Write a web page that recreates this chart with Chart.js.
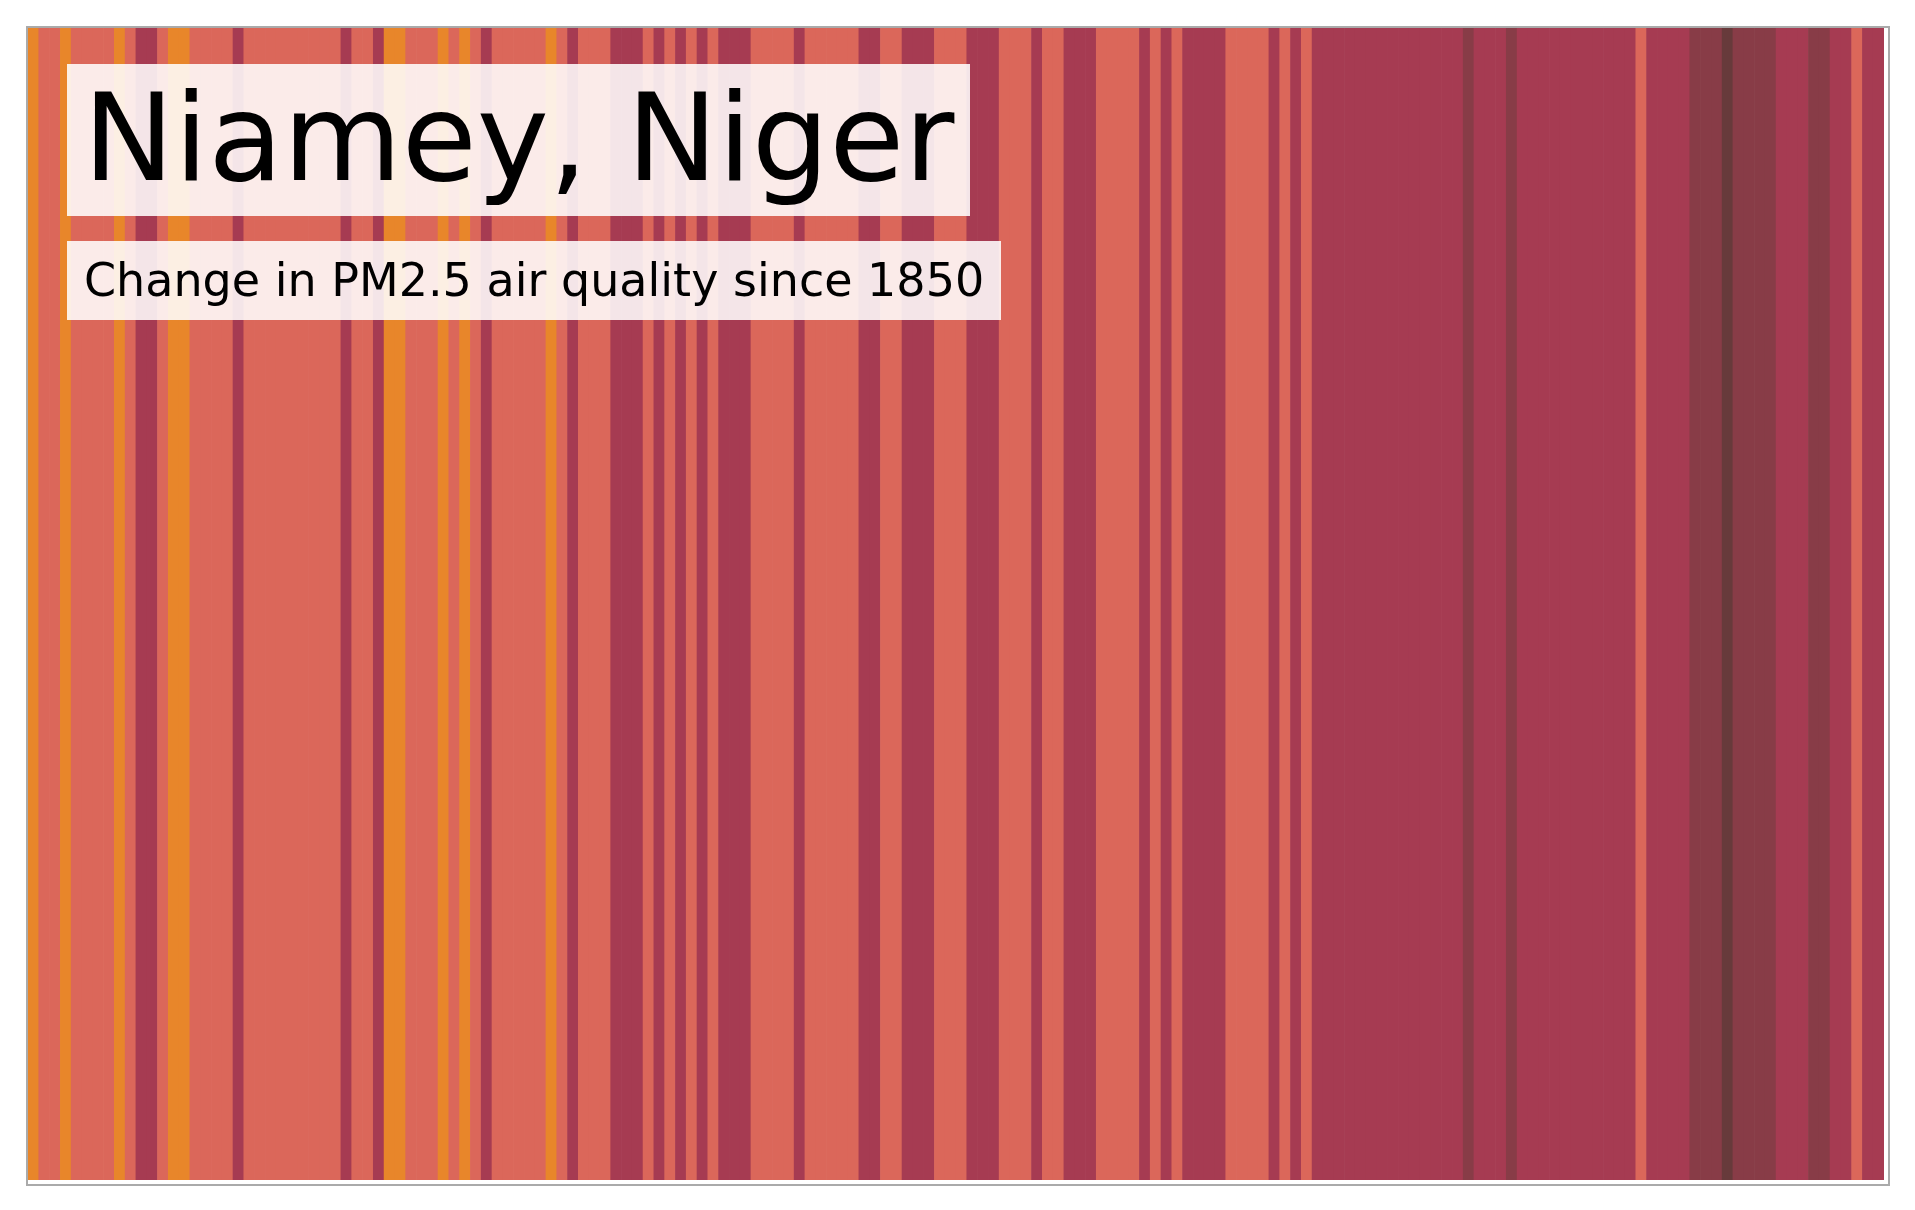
<!DOCTYPE html>
<html><head><meta charset="utf-8">
<script src="https://cdn.jsdelivr.net/npm/chart.js@4/dist/chart.umd.min.js"></script>
<style>
html,body{margin:0;padding:0;background:#fff;width:1915px;height:1210px;overflow:hidden;font-family:"DejaVu Sans",sans-serif;}
#wrap{position:absolute;left:26px;top:26px;width:1860px;height:1156px;border:2px solid #aaa;}
.box{position:absolute;background:rgba(255,255,255,0.87);color:#000;white-space:nowrap;}
#t{left:67px;top:64px;height:152px;padding:0 16px;font-size:122px;line-height:148px;}
#s{left:67px;top:241px;height:79px;padding:0 17px;font-size:46px;line-height:79px;}
</style></head><body>
<div id="wrap"><canvas id="c"></canvas></div>
<div class="box" id="t">Niamey, Niger</div>
<div class="box" id="s">Change in PM2.5 air quality since 1850</div>
<script>
const runs = [[0,1],[1,2],[0,1],[1,4],[0,1],[1,1],[2,2],[1,1],[0,2],[1,4],[2,1],[1,9],[2,1],[1,2],[2,1],[0,2],[1,3],[0,1],[1,1],[0,1],[1,1],[2,1],
[1,5],[0,1],[1,1],[2,1],[1,3],[2,3],[1,1],[2,1],[1,1],[2,1],[1,1],[2,1],[1,1],[2,3],[1,4],[2,1],[1,5],[2,2],[1,2],[2,3],[1,3],
[2,3],[1,3],[2,1],[1,2],[2,3],[1,4],[2,1],[1,1],[2,1],[1,1],[2,4],[1,4],[2,1],[1,1],[2,1],[1,1],
[2,14],[3,1],[2,3],[3,1],[2,11],[1,1],[2,4],[3,3],[4,1],[3,4],[2,3],[3,2],[2,2],[1,1],[2,2]];
const levels = [];
runs.forEach(([v,n])=>{for(let i=0;i<n;i++)levels.push(v);});
const years = levels.map((_,i)=>String(1850+i));
const palette = ["#e8862a","#db675a","#a63b52","#883c47","#673a3b"];
const W=1856,H=1152;
const cv=document.getElementById('c');
cv.style.width=W+'px';cv.style.height=H+'px';
new Chart(cv,{type:'bar',
data:{labels:years,datasets:[{data:levels.map(()=>1),backgroundColor:levels.map(v=>palette[v]),borderWidth:0,barPercentage:1,categoryPercentage:1}]},
options:{responsive:false,animation:false,maintainAspectRatio:false,layout:{padding:0},
plugins:{legend:{display:false},tooltip:{enabled:false}},
scales:{x:{display:false,offset:true},y:{display:false,min:0,max:1}}}});
</script>
</body></html>
